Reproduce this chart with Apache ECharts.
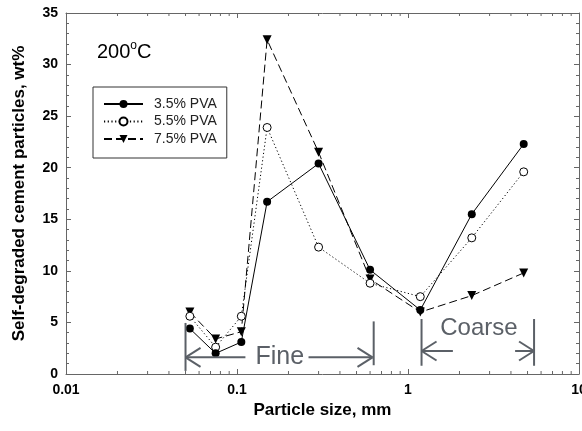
<!DOCTYPE html>
<html><head><meta charset="utf-8">
<script src="https://cdn.jsdelivr.net/npm/echarts@6/dist/echarts.min.js"></script>
<style>html,body{margin:0;padding:0;background:#fff}#c{width:582px;height:431px}</style>
</head><body><div id="c"></div>
<script>
// ---- data ----
const sizes = [0.053, 0.075, 0.106, 0.15, 0.3, 0.6, 1.18, 2.36, 4.75];
const pva35 = [4.4, 2.0, 3.1, 16.7, 20.4, 10.1, 6.2, 15.5, 22.3];
const pva55 = [5.6, 2.6, 5.6, 23.9, 12.3, 8.8, 7.5, 13.2, 19.6];
const pva75 = [6.0, 3.4, 4.1, 32.4, 21.5, 9.2, 6.0, 7.6, 9.8];
const seriesNames = ['3.5% PVA', '5.5% PVA', '7.5% PVA'];
const xTickValues = [0.01, 0.1, 1, 10];
const xTickLabels = ['0.01', '0.1', '1', '10'];
const yTickLabels = ['0', '5', '10', '15', '20', '25', '30', '35'];
const xMinorTicks = [];
[0.01, 0.1, 1].forEach(d => { for (let k = 2; k <= 9; k++) xMinorTicks.push(+(d * k).toFixed(4)); });

const FONT = 'Liberation Sans, Arial, sans-serif';
const AXC = '#666';
const ANC = '#5b6067';

const chart = echarts.init(document.getElementById('c'), null, {renderer: 'canvas'});

function pairs(vals) { return sizes.map((s, i) => [s, vals[i]]); }

const xLabelFmt = v => {
  let best = 0, bd = Infinity;
  xTickValues.forEach((t, i) => { const d = Math.abs(Math.log10(t) - Math.log10(v)); if (d < bd) { bd = d; best = i; } });
  return xTickLabels[best];
};

const option = {
  animation: false,
  backgroundColor: '#fff',
  grid: {left: 66, right: 3, top: 13, bottom: 57, containLabel: false, outerBoundsMode: 'none', show: false},
  xAxis: [{
    type: 'log', logBase: 10, min: 0.01, max: 10, position: 'bottom',
    name: 'Particle size, mm', nameLocation: 'middle', nameGap: 26,
    nameTextStyle: {fontFamily: FONT, fontSize: 17, fontWeight: 'bold', color: '#000'},
    axisLine: {show: true, onZero: false, lineStyle: {color: AXC, width: 1}},
    axisTick: {show: true, inside: true, length: 5, lineStyle: {color: AXC}},
    axisLabel: {show: true, margin: 9, fontFamily: FONT, fontSize: 14, fontWeight: 'bold', color: '#000', formatter: xLabelFmt, showMaxLabel: true, showMinLabel: true},
    splitLine: {show: false}, minorTick: {show: false}
  }, {
    type: 'log', logBase: 10, min: 0.01, max: 10, position: 'top',
    axisLine: {show: true, onZero: false, lineStyle: {color: AXC, width: 1}},
    axisTick: {show: true, inside: true, length: 5, lineStyle: {color: AXC}},
    axisLabel: {show: false}, splitLine: {show: false}
  }],
  yAxis: [{
    type: 'value', min: 0, max: 35, interval: 5, position: 'left',
    name: 'Self-degraded cement particles, wt%', nameLocation: 'middle', nameGap: 38,
    nameTextStyle: {fontFamily: FONT, fontSize: 17, fontWeight: 'bold', color: '#000'},
    axisLine: {show: true, onZero: false, lineStyle: {color: AXC, width: 1}},
    axisTick: {show: true, inside: true, length: 5, lineStyle: {color: AXC}},
    minorTick: {show: true, splitNumber: 5, length: 3, lineStyle: {color: AXC}},
    axisLabel: {margin: 8, fontFamily: FONT, fontSize: 14, fontWeight: 'bold', color: '#000',
      formatter: v => yTickLabels[Math.round(v / 5)]},
    splitLine: {show: false}
  }, {
    type: 'value', min: 0, max: 35, interval: 5, position: 'right',
    axisLine: {show: true, onZero: false, lineStyle: {color: AXC, width: 1}},
    axisTick: {show: true, inside: true, length: 5, lineStyle: {color: AXC}},
    minorTick: {show: true, splitNumber: 5, length: 3, lineStyle: {color: AXC}},
    axisLabel: {show: false}, splitLine: {show: false}
  }],
  legend: {
    orient: 'vertical', left: 93, top: 87, data: seriesNames,
    padding: [10, 10, 12, 10], borderColor: '#333', borderWidth: 1, backgroundColor: '#fff',
    itemWidth: 39, itemHeight: 10, itemGap: 3.5,
    textStyle: {fontFamily: FONT, fontSize: 14, color: '#222', lineHeight: 14, padding: [0, 0, 0, 6]}
  },
  series: [
    {
      type: 'custom', name: 'minorTicks', silent: true, z: 1, clip: false,
      xAxisIndex: 0, yAxisIndex: 0,
      data: xMinorTicks.map(v => [v, 0]),
      encode: {x: 0, y: 1},
      renderItem: function (params, api) {
        const x = api.value(0);
        const b = api.coord([x, 0]);
        const t = api.coord([x, 35]);
        return {type: 'group', children: [
          {type: 'line', shape: {x1: b[0], y1: b[1], x2: b[0], y2: b[1] - 3}, style: {stroke: AXC, lineWidth: 1}},
          {type: 'line', shape: {x1: t[0], y1: t[1], x2: t[0], y2: t[1] + 3}, style: {stroke: AXC, lineWidth: 1}}
        ]};
      }
    },
    {
      name: seriesNames[0], type: 'line', data: pairs(pva35), z: 4,
      symbol: 'circle', symbolSize: 8,
      itemStyle: {color: '#000', borderColor: '#000', borderWidth: 0},
      lineStyle: {color: '#000', width: 1, type: 'solid'}
    },
    {
      name: seriesNames[1], type: 'line', data: pairs(pva55), z: 3,
      symbol: 'circle', symbolSize: 8,
      itemStyle: {color: '#fff', borderColor: '#000', borderWidth: 1},
      lineStyle: {color: '#000', width: 1, type: [1.2, 2.5]}
    },
    {
      name: seriesNames[2], type: 'line', data: pairs(pva75), z: 2,
      symbol: 'triangle', symbolSize: 9, symbolRotate: 180,
      itemStyle: {color: '#000', borderColor: '#000', borderWidth: 0},
      lineStyle: {color: '#000', width: 1, type: [8, 4]}
    }
  ]
};
chart.setOption(option);

// ---- annotations (positions from axes) ----
const P = (x, y) => chart.convertToPixel({xAxisIndex: 0, yAxisIndex: 0}, [x, y]);
function seg(a, b, w) { return {type: 'line', shape: {x1: a[0], y1: a[1], x2: b[0], y2: b[1]}, style: {stroke: ANC, lineWidth: w || 2}, z: 10}; }
function head(tip, dir) {
  return [
    seg(tip, [tip[0] - dir * 15, tip[1] - 9.5], 2),
    seg(tip, [tip[0] - dir * 15, tip[1] + 9.5], 2)
  ];
}
const g = [];
// Fine
{
  const y = 1.62;
  const lb1 = P(0.05, 4.95), lb2 = P(0.05, 0.3);
  const rb1 = P(0.63, 5.1), rb2 = P(0.63, 0.85);
  g.push(seg(lb1, lb2), seg(rb1, rb2));
  const lt = P(0.05, y), le = P(0.112, y);
  const rs = P(0.262, y), rt = P(0.62, y);
  g.push(seg(lt, le), seg(rs, rt));
  g.push(...head(lt, -1), ...head(rt, 1));
  const tc = P(0.178, 1.65);
  g.push({type: 'text', x: tc[0], y: tc[1], z: 10, style: {text: 'Fine', fontFamily: FONT, fontSize: 25, fill: ANC, align: 'center', verticalAlign: 'middle'}});
}
// Coarse
{
  const y = 2.23;
  const lb1 = P(1.2, 5.33), lb2 = P(1.2, 0.8);
  const rb1 = P(5.46, 5.33), rb2 = P(5.46, 0.8);
  g.push(seg(lb1, lb2), seg(rb1, rb2));
  const lt = P(1.2, y), le = P(1.83, y);
  const rs = P(4.23, y), rt = P(5.46, y);
  g.push(seg(lt, le), seg(rs, rt));
  g.push(...head(lt, -1), ...head(rt, 1));
  const tc = P(2.6, 4.46);
  g.push({type: 'text', x: tc[0], y: tc[1], z: 10, style: {text: 'Coarse', fontFamily: FONT, fontSize: 24, fill: ANC, align: 'center', verticalAlign: 'middle'}});
}
// temperature label
g.push({type: 'text', left: 97, top: 40, z: 10, style: {
  text: '{a|200}{s|o}{a|C}', fontFamily: FONT,
  rich: {a: {fontFamily: FONT, fontSize: 20, fill: '#000', verticalAlign: 'bottom', lineHeight: 22},
         s: {fontFamily: FONT, fontSize: 12, fill: '#000', verticalAlign: 'top', lineHeight: 22}}
}});
chart.setOption({graphic: g});
</script>
</body></html>
